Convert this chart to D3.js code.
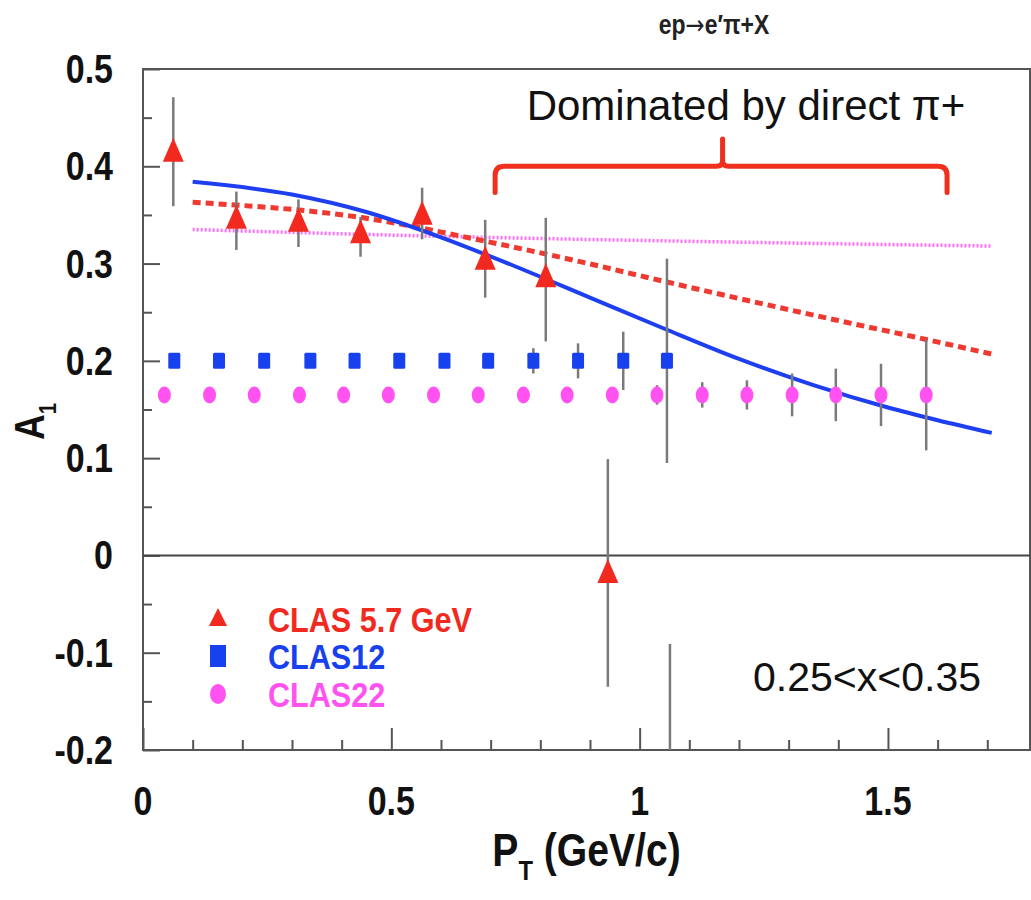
<!DOCTYPE html>
<html>
<head>
<meta charset="utf-8">
<script src="https://cdn.jsdelivr.net/npm/d3@7"></script>
<style>
  body { margin: 0; background: #fff; }
  svg { display: block; }
</style>
</head>
<body>
<div id="chart-area"></div>
<script>
// ---- data ----
// CLAS 5.7 GeV (red triangles)
var clas57_pt  = [0.061, 0.188, 0.313, 0.438, 0.562, 0.689, 0.811, 0.936, 1.061];
var clas57_a1  = [0.413, 0.344, 0.341, 0.329, 0.348, 0.302, 0.284, -0.020, -0.300];
var clas57_up  = [0.058, 0.030, 0.025, 0.019, 0.030, 0.043, 0.063, 0.119, 0.209];
var clas57_dn  = [0.054, 0.030, 0.024, 0.022, 0.023, 0.037, 0.064, 0.115, 0.209];

// CLAS12 projection (blue squares)
var clas12_pt  = [0.063, 0.153, 0.244, 0.337, 0.426, 0.516, 0.607, 0.695, 0.786, 0.876, 0.967, 1.055];
var clas12_a1  = [0.2, 0.2, 0.2, 0.2, 0.2, 0.2, 0.2, 0.2, 0.2, 0.2, 0.2, 0.2];
var clas12_err = [0.004, 0.004, 0.004, 0.004, 0.004, 0.005, 0.005, 0.006, 0.013, 0.018, 0.030, 0.105];

// CLAS22 projection (magenta circles)
var clas22_pt  = [0.043, 0.134, 0.224, 0.315, 0.404, 0.494, 0.585, 0.675, 0.766, 0.854,
                  0.945, 1.035, 1.126, 1.216, 1.307, 1.395, 1.486, 1.577];
var clas22_a1  = [0.165, 0.165, 0.165, 0.165, 0.165, 0.165, 0.165, 0.165, 0.165, 0.165,
                  0.165, 0.165, 0.165, 0.165, 0.165, 0.165, 0.165, 0.165];
var clas22_err = [0.003, 0.003, 0.003, 0.003, 0.003, 0.004, 0.004, 0.004, 0.005, 0.006,
                  0.008, 0.010, 0.013, 0.015, 0.022, 0.027, 0.032, 0.057];

// model curves
var solid_pt  = [0.1, 0.3, 0.45, 0.6, 0.75, 0.9, 1.05, 1.2, 1.35, 1.5, 1.6, 1.709];
var solid_a1  = [0.384, 0.371, 0.353, 0.327, 0.297, 0.265, 0.233, 0.202, 0.175, 0.152, 0.139, 0.126];
var dashed_pt = [0.1, 0.444, 0.689, 0.880, 1.055, 1.395, 1.577, 1.709];
var dashed_a1 = [0.363, 0.347, 0.323, 0.302, 0.281, 0.242, 0.222, 0.207];
var dotted_pt = [0.1, 0.6, 1.2, 1.709];
var dotted_a1 = [0.335, 0.328, 0.322, 0.318];

// axes
var xTicks = [0, 0.5, 1, 1.5];
var xTickLabels = ["0", "0.5", "1", "1.5"];
var xMinor = [0.1, 0.2, 0.3, 0.4, 0.6, 0.7, 0.8, 0.9, 1.1, 1.2, 1.3, 1.4, 1.6, 1.7];
var yTicks = [-0.2, -0.1, 0, 0.1, 0.2, 0.3, 0.4, 0.5];
var yTickLabels = ["-0.2", "-0.1", "0", "0.1", "0.2", "0.3", "0.4", "0.5"];
var yMinor = [-0.15, -0.05, 0.05, 0.15, 0.25, 0.35, 0.45];

var legendNames = ["CLAS 5.7 GeV", "CLAS12", "CLAS22"];
var colors = { red: "#f2291e", blue: "#1740ee", magenta: "#ff52f0", curveRed: "#ee3a30", curveBlue: "#1e3ff0" };

// ---- layout ----
var W = 1031, H = 900;
var plot = { left: 143, top: 69, right: 1030, bottom: 750 };
var font = "'Liberation Sans', Arial, Helvetica, sans-serif";
var narrow = 0.85;   // the original lettering is a condensed Helvetica

var svg = d3.select("#chart-area").append("svg")
    .attr("width", W).attr("height", H);

var x = d3.scaleLinear().domain([0, 1.786]).range([plot.left, plot.right]);
var y = d3.scaleLinear().domain([-0.2, 0.5]).range([plot.bottom, plot.top]);

// text helper: condensed bold label placed at (px, py)
function label(parent, px, py, size, anchor, fill) {
  return parent.append("text")
      .attr("transform", "translate(" + px + "," + py + ") scale(" + narrow + ",1)")
      .attr("text-anchor", anchor)
      .style("font-family", font).style("font-weight", "bold").style("font-size", size + "px")
      .attr("fill", fill);
}

svg.append("clipPath").attr("id", "clip")
  .append("rect")
    .attr("x", plot.left).attr("y", plot.top)
    .attr("width", plot.right - plot.left).attr("height", plot.bottom - plot.top);

// frame
svg.append("rect")
    .attr("x", plot.left).attr("y", plot.top)
    .attr("width", plot.right - plot.left).attr("height", plot.bottom - plot.top)
    .attr("fill", "none").attr("stroke", "#555").attr("stroke-width", 2);

function styleAxis(g) {
  g.select(".domain").remove();
  g.selectAll(".tick line").attr("stroke", "#555").attr("stroke-width", 2);
}
// y ticks (inside, pointing right)
svg.append("g").attr("transform", "translate(" + plot.left + ",0)")
    .call(d3.axisRight(y).tickValues(yTicks).tickSize(17).tickFormat(""))
    .call(styleAxis);
svg.append("g").attr("transform", "translate(" + plot.left + ",0)")
    .call(d3.axisRight(y).tickValues(yMinor).tickSize(9).tickFormat(""))
    .call(styleAxis);
// x ticks (inside, pointing up)
svg.append("g").attr("transform", "translate(0," + plot.bottom + ")")
    .call(d3.axisTop(x).tickValues(xTicks).tickSize(22).tickFormat(""))
    .call(styleAxis);
svg.append("g").attr("transform", "translate(0," + plot.bottom + ")")
    .call(d3.axisTop(x).tickValues(xMinor).tickSize(10).tickFormat(""))
    .call(styleAxis);

// tick labels
yTicks.forEach(function(d, i) {
  label(svg, 113, y(d) + 14, 40, "end", "#111").text(yTickLabels[i]);
});
xTicks.forEach(function(d, i) {
  label(svg, x(d), 815, 40, "middle", "#111").text(xTickLabels[i]);
});

// axis titles
var xt = label(svg, (plot.left + plot.right) / 2, 866, 46, "middle", "#111");
xt.append("tspan").text("P");
xt.append("tspan").attr("dy", 14).style("font-size", "28px").text("T");
xt.append("tspan").attr("dy", -14).text(" (GeV/c)");

var yt = svg.append("text")
    .attr("transform", "translate(44,440) rotate(-90) scale(" + narrow + ",1)")
    .style("font-family", font).style("font-weight", "bold").style("font-size", "42px")
    .attr("fill", "#111");
yt.append("tspan").text("A");
yt.append("tspan").attr("dy", 12).style("font-size", "24px").text("1");

// reaction title
var rt = label(svg, 714, 34, 27, "middle", "#222");
rt.append("tspan").text("ep");
rt.append("tspan").style("font-family", "'DejaVu Sans', sans-serif").style("font-weight", "normal").text("\u2192");
rt.append("tspan").text("e\u2032\u03c0+X");

var plotArea = svg.append("g").attr("clip-path", "url(#clip)");

// zero line
plotArea.append("line")
    .attr("x1", plot.left).attr("x2", plot.right)
    .attr("y1", y(0)).attr("y2", y(0))
    .attr("stroke", "#444").attr("stroke-width", 2);

// curves
function curve(pts, vals) {
  return d3.line()
      .x(function(d, i) { return x(pts[i]); })
      .y(function(d) { return y(d); })
      .curve(d3.curveMonotoneX)(vals);
}
plotArea.append("path").attr("d", curve(dotted_pt, dotted_a1))
    .attr("fill", "none").attr("stroke", colors.magenta).attr("stroke-width", 3.5)
    .attr("stroke-dasharray", "2,2").attr("opacity", 0.85);
plotArea.append("path").attr("d", curve(dashed_pt, dashed_a1))
    .attr("fill", "none").attr("stroke", colors.curveRed).attr("stroke-width", 5)
    .attr("stroke-dasharray", "8,5");
plotArea.append("path").attr("d", curve(solid_pt, solid_a1))
    .attr("fill", "none").attr("stroke", colors.curveBlue).attr("stroke-width", 4);

// error bars
function errBars(pts, vals, up, dn) {
  plotArea.append("g").selectAll("line")
    .data(vals).enter().append("line")
      .attr("x1", function(d, i) { return x(pts[i]); })
      .attr("x2", function(d, i) { return x(pts[i]); })
      .attr("y1", function(d, i) { return y(d + up[i]); })
      .attr("y2", function(d, i) { return y(d - dn[i]); })
      .attr("stroke", "#7a7a7a").attr("stroke-width", 2.5);
}
errBars(clas22_pt, clas22_a1, clas22_err, clas22_err);
errBars(clas12_pt, clas12_a1, clas12_err, clas12_err);
errBars(clas57_pt, clas57_a1, clas57_up, clas57_dn);

// markers
plotArea.append("g").selectAll("ellipse")
  .data(clas22_a1).enter().append("ellipse")
    .attr("cx", function(d, i) { return x(clas22_pt[i]); })
    .attr("cy", function(d) { return y(d); })
    .attr("rx", 6.5).attr("ry", 8.5)
    .attr("fill", colors.magenta);

plotArea.append("g").selectAll("rect")
  .data(clas12_a1).enter().append("rect")
    .attr("x", function(d, i) { return x(clas12_pt[i]) - 6; })
    .attr("y", function(d) { return y(d) - 8; })
    .attr("width", 12).attr("height", 16).attr("rx", 1.5)
    .attr("fill", colors.blue);

var tri = "M0,-16L10.5,8L-10.5,8Z";
plotArea.append("g").selectAll("path")
  .data(clas57_a1).enter().append("path")
    .attr("d", tri)
    .attr("transform", function(d, i) { return "translate(" + x(clas57_pt[i]) + "," + y(d) + ")"; })
    .attr("fill", colors.red);

// bracket annotation
var bL = x(0.709), bR = x(1.619), bC = x(1.167);
var bY = y(0.400), bEnd = y(0.373), bTop = y(0.428), r = 9;
var bracket = "M" + bL + "," + bEnd +
  "L" + bL + "," + (bY + r) + "Q" + bL + "," + bY + " " + (bL + r) + "," + bY +
  "L" + (bC - 6) + "," + bY + "Q" + bC + "," + bY + " " + bC + "," + (bY - 6) +
  "L" + bC + "," + bTop +
  "M" + bC + "," + (bY - 6) + "Q" + bC + "," + bY + " " + (bC + 6) + "," + bY +
  "L" + (bR - r) + "," + bY + "Q" + bR + "," + bY + " " + bR + "," + (bY + r) +
  "L" + bR + "," + bEnd;
svg.append("path").attr("d", bracket)
    .attr("fill", "none").attr("stroke", "#f0301e").attr("stroke-width", 5)
    .attr("stroke-linecap", "round").attr("stroke-linejoin", "round");

svg.append("text")
    .attr("x", 746).attr("y", 120)
    .attr("text-anchor", "middle")
    .style("font-family", font).style("font-size", "42px")
    .attr("fill", "#111")
    .text("Dominated by direct \u03c0+");

svg.append("text")
    .attr("x", 867).attr("y", 691)
    .attr("text-anchor", "middle")
    .style("font-family", font).style("font-size", "41px")
    .attr("fill", "#111")
    .text("0.25<x<0.35");

// legend
var legendColors = [colors.red, colors.blue, colors.magenta];
var legendY = [619, 656, 694];
var lg = svg.append("g");
lg.append("path").attr("d", "M0,-11L9,7L-9,7Z")
    .attr("transform", "translate(218," + legendY[0] + ")").attr("fill", colors.red);
lg.append("rect").attr("x", 210).attr("y", legendY[1] - 11).attr("width", 16).attr("height", 22)
    .attr("fill", colors.blue);
lg.append("ellipse").attr("cx", 218).attr("cy", legendY[2]).attr("rx", 8).attr("ry", 10)
    .attr("fill", colors.magenta);
legendNames.forEach(function(d, i) {
  label(lg, 268, legendY[i] + 13, 36, "start", legendColors[i]).text(d);
});
</script>
</body>
</html>
